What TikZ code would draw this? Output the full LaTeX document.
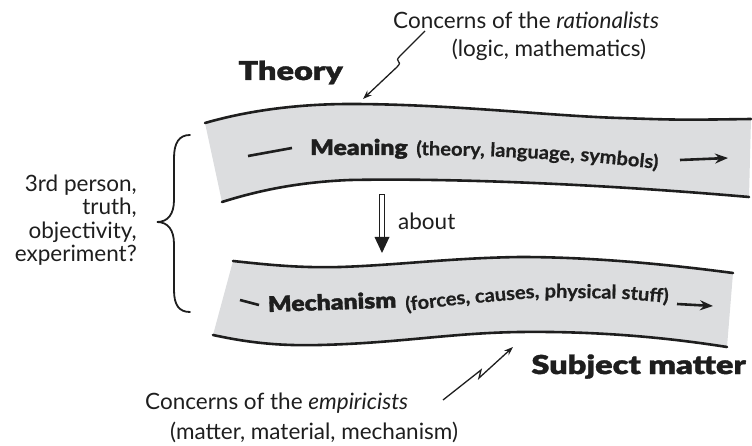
\documentclass[tikz,border=0pt]{standalone}
\usepackage{fontspec}
\setmainfont{Lato}
\newfontfamily\heavy[FakeStretch=1.15, FakeBold=1.5]{Lato Black}
\newfontfamily\heavyw[FakeStretch=1.25, FakeBold=1.5]{Lato Black}
\newfontfamily\parfont[FakeStretch=1.06, FakeBold=0.6]{Lato Bold}
\usetikzlibrary{arrows.meta}
\definecolor{band}{RGB}{220,221,223}
\definecolor{ink}{RGB}{30,30,30}
\tikzset{
  edge/.style={line width=2.6pt, line cap=round, draw=ink},
  lbl/.style={inner sep=0pt, font=\fontsize{22.5}{23.3}\selectfont, text=ink},
  big/.style={inner sep=0pt, font=\heavyw\fontsize{26}{28}\selectfont, text=ink},
  mid/.style={inner sep=0pt, font=\heavy\fontsize{21.5}{24}\selectfont, text=ink},
  paren/.style={inner sep=0pt, font=\parfont\fontsize{19}{21}\selectfont, text=ink},
  bolt/.style={line width=1.3pt, draw=ink, -{Stealth[length=9pt,width=6.5pt]}},
  flow/.style={line width=2.6pt, draw=ink, -{Stealth[length=13pt,width=10pt]}},
  dashbar/.style={line width=2.6pt, draw=ink},
}
\begin{document}
\begin{tikzpicture}[x=1pt,y=-1pt]
\useasboundingbox (0,0) rectangle (752,446);

% ---- top band (Meaning)
\fill[band] (205,123) .. controls (250,110) and (300,104) .. (350,104)
  .. controls (450,104) and (550,116) .. (620,118) .. controls (680,120) .. (751,119)
  -- (749,197) .. controls (600,184) and (450,178) .. (350,180)
  .. controls (300,182) and (260,190) .. (222,202) -- cycle;
\draw[edge] (205,123) .. controls (250,110) and (300,104) .. (350,104)
  .. controls (450,104) and (550,116) .. (620,118) .. controls (680,120) .. (751,119);
\draw[edge] (222,202) .. controls (260,190) and (300,182) .. (350,180)
  .. controls (450,178) and (600,184) .. (749,197);

% ---- bottom band (Mechanism)
\fill[band] (233,261) .. controls (270,265) and (300,268) .. (340,267)
  .. controls (400,265) and (450,258) .. (520,257) .. controls (600,257) and (680,266) .. (733,273)
  -- (727,347) .. controls (670,338) and (600,331) .. (520,332)
  .. controls (450,333) and (400,343) .. (320,345) .. controls (280,346) and (250,343) .. (213,335) -- cycle;
\draw[edge] (233,261) .. controls (270,265) and (300,268) .. (340,267)
  .. controls (400,265) and (450,258) .. (520,257) .. controls (600,257) and (680,266) .. (733,273);
\draw[edge] (213,335) .. controls (250,343) and (280,346) .. (320,345)
  .. controls (400,343) and (450,333) .. (520,332) .. controls (600,331) and (670,338) .. (727,347);

% ---- band contents
\coordinate (md1) at (248,156);
\coordinate (md2) at (292,148);
\draw[dashbar] (md1) -- (md2);
\node[mid, anchor=base west] (meaning) at (310,155) {Meaning};
\node[paren, anchor=base west, rotate=-1] (w1) at (416,155) {(theory,};
\node[paren, anchor=base west, rotate=-3] (w2) at ([xshift=5pt]w1.base east) {language,};
\node[paren, anchor=base west, rotate=-6] (w3) at ([xshift=5pt]w2.base east) {symbols)};
\coordinate (ma1) at (680,160);
\coordinate (ma2) at (728,158);
\draw[flow] (ma1) -- (ma2);

\coordinate (kd1) at (240,300);
\coordinate (kd2) at (259,305);
\draw[dashbar] (kd1) -- (kd2);
\node[mid, anchor=base west, rotate=2] (mech) at (268,312) {Mechanism};
\node[paren, anchor=base west, rotate=7] (v1) at (406,311) {(forces,};
\node[paren, anchor=base west, rotate=5] (v2) at ([xshift=4.5pt]v1.base east) {causes,};
\node[paren, anchor=base west, rotate=-1] (v3) at ([xshift=4.5pt]v2.base east) {physical};
\node[paren, anchor=base west, rotate=-5] (v4) at ([xshift=4.5pt]v3.base east) {stuff)};
\coordinate (ka1) at (677,304);
\coordinate (ka2) at (713,306);
\draw[flow] (ka1) -- (ka2);

% ---- about arrow
\node[lbl, anchor=west] (about) at (398,221) {about};
\draw[line width=1pt, draw=ink, fill=white] (379.5,195) rectangle (384.5,238);
\fill[ink] (374.5,237) -- (389.5,237) -- (382,253) -- cycle;

% ---- labels
\node[big, anchor=base east] (theory) at (343,80) {Theory};
\node[big, anchor=base east] (subj) at (746,374) {Subject matter};
\node[lbl, anchor=base west] (rat1) at (393,29) {Concerns of the \textit{rationalists}};
\node[lbl, anchor=base] (rat2) at (549,57) {(logic, mathematics)};
\node[lbl, anchor=base west] (emp1) at (145,409) {Concerns of the \textit{empiricists}};
\node[lbl, anchor=base west] (emp2) at (170,439) {(matter, material, mechanism)};
\node[lbl, anchor=east, align=right] (left) at (137,220) {3rd person,\\truth,\\objectivity,\\experiment?};

% ---- brace
\draw[line width=1.8pt, draw=ink, line cap=round]
  (190,135) .. controls (179,135) and (174,143) .. (174,158) -- (174,200)
  .. controls (174,214) and (168,222) .. (157,222)
  .. controls (168,222) and (174,230) .. (174,244) -- (174,290)
  .. controls (174,305) and (179,312) .. (190,312);

% ---- lightning arrows
\coordinate (rA) at (425,31);
\coordinate (rB) at (363,99);
\draw[bolt] (rA) -- (400,56) .. controls (393,63) and (404,60) .. (397,67) -- (rB);
\coordinate (eA) at (443,400);
\coordinate (eB) at (513,347);
\draw[bolt] (eA) -- (481,370) -- (479,378) -- (eB);
\end{tikzpicture}
\end{document}
